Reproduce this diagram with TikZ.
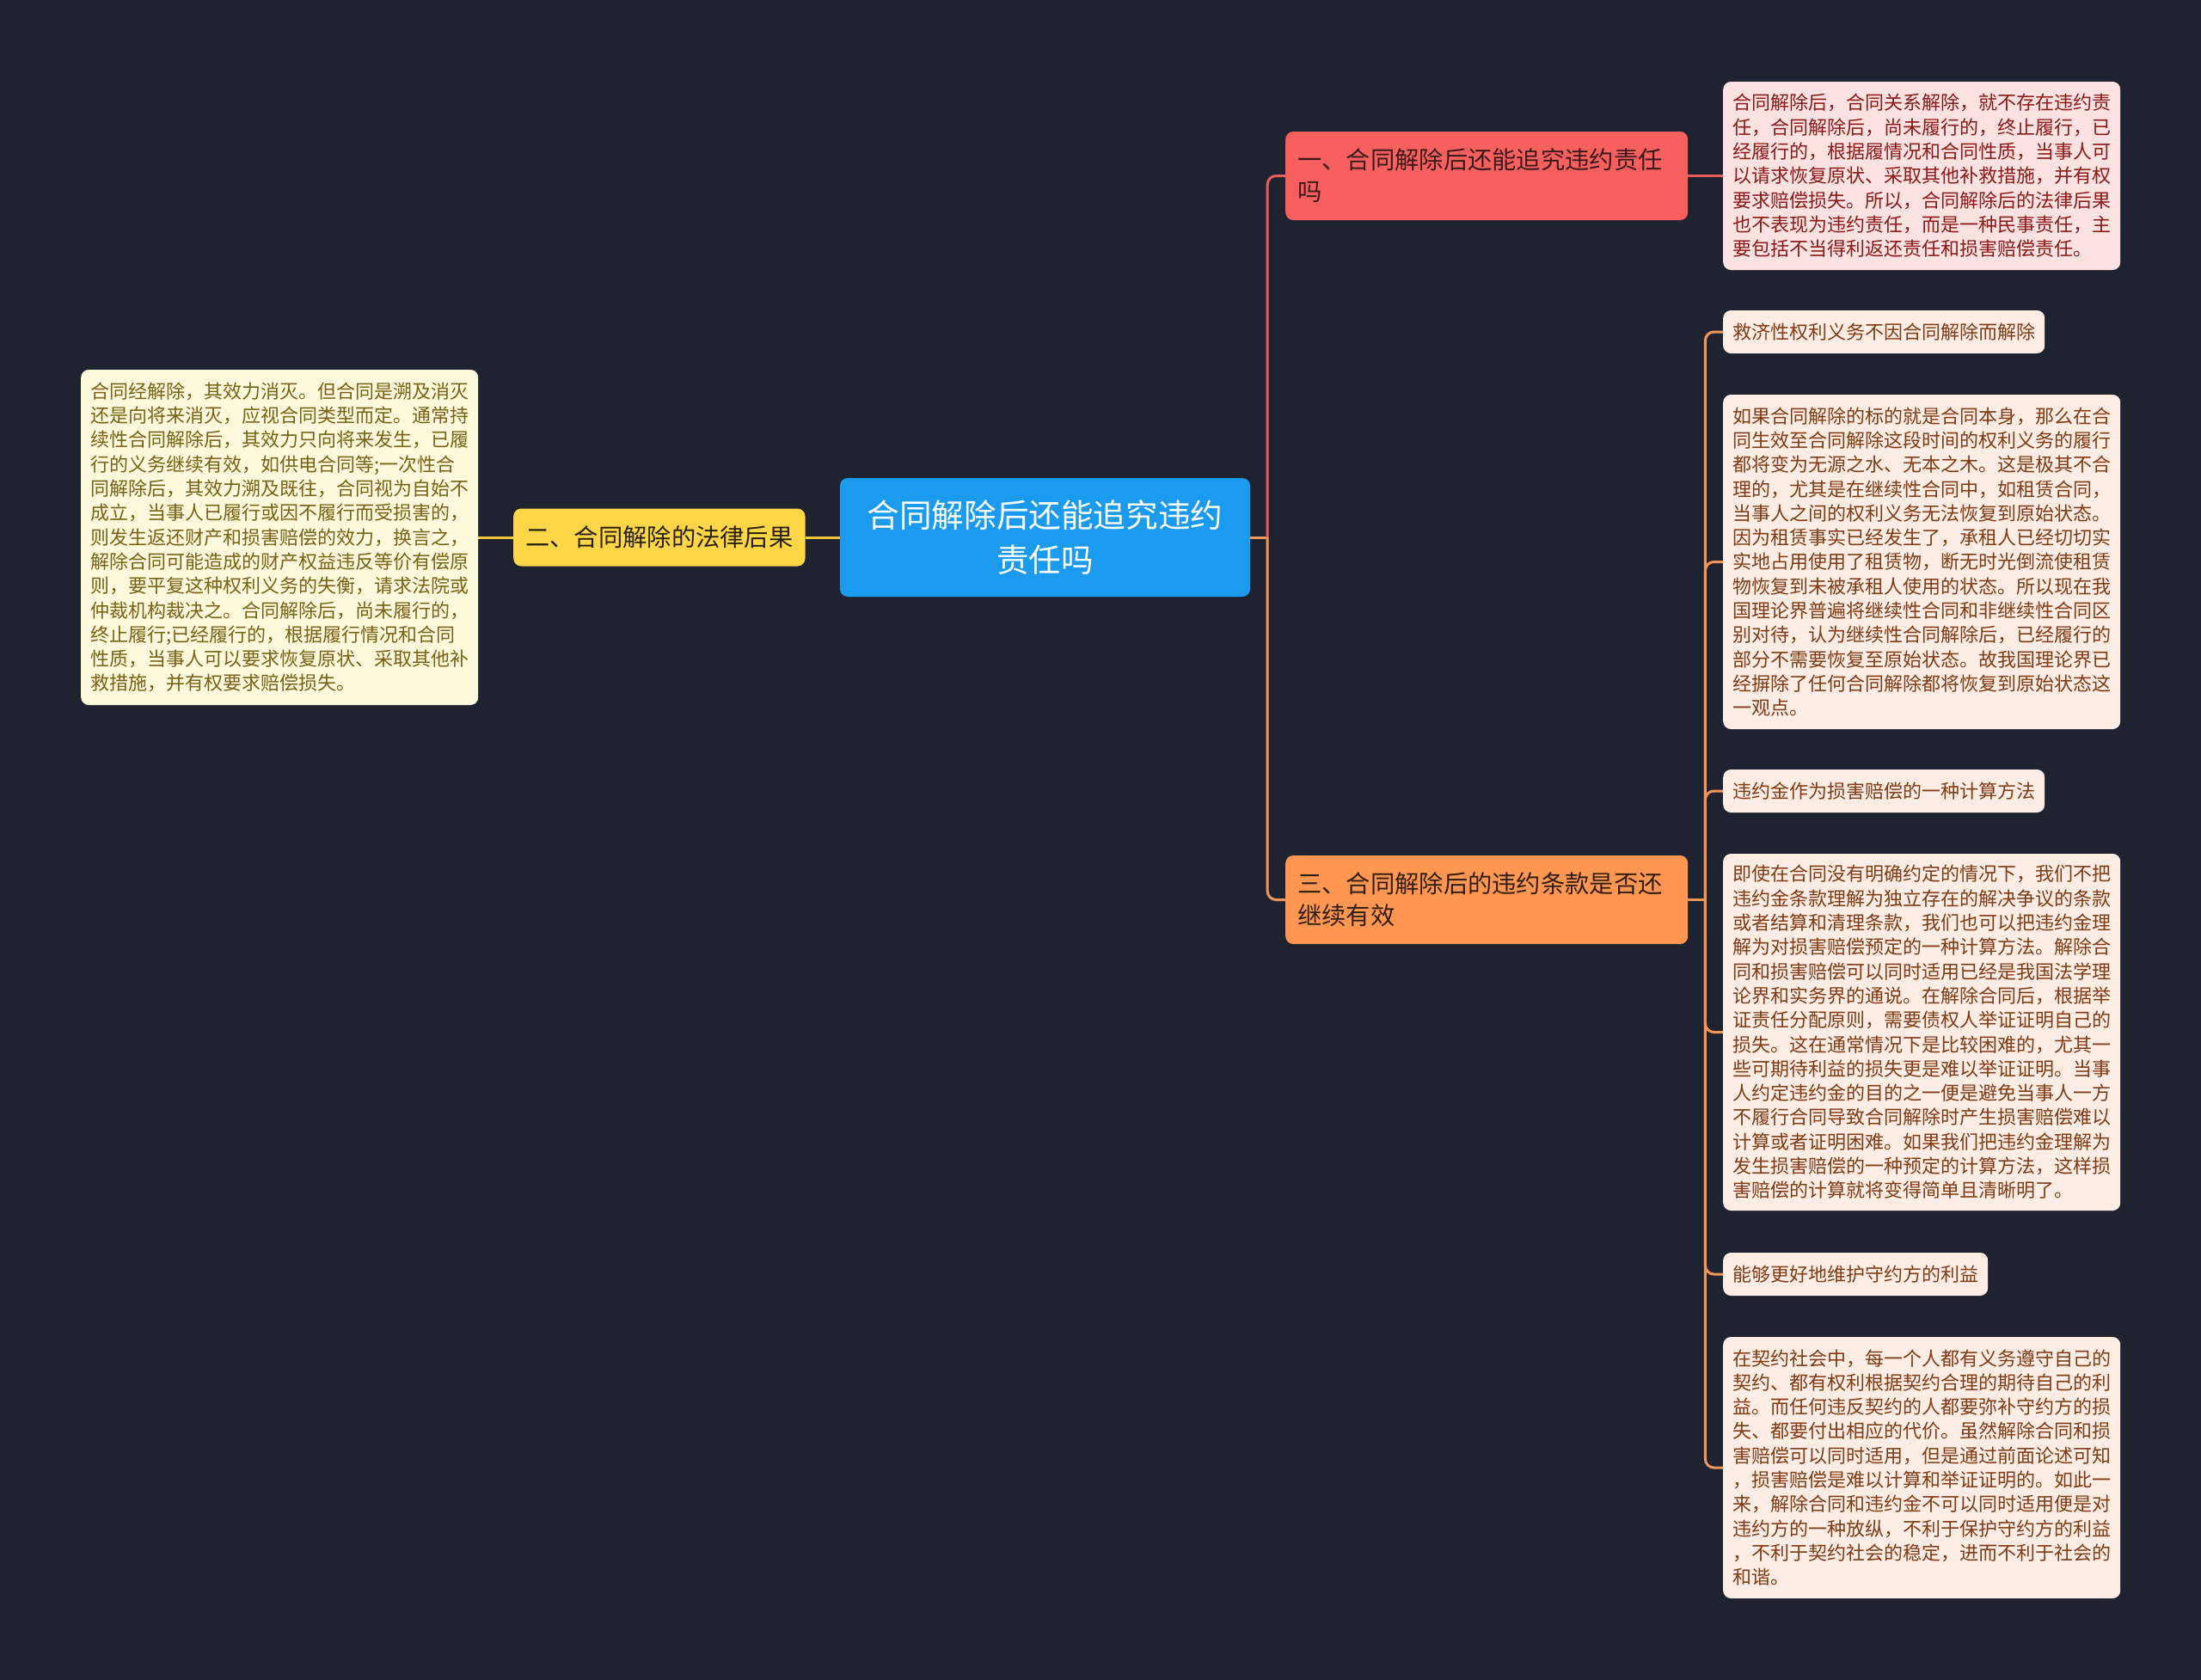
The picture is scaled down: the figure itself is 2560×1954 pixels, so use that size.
\documentclass[tikz,border=0pt]{standalone}
\usepackage{fontspec}
\setmainfont{Noto Sans CJK SC}

\begin{document}
\begin{tikzpicture}[x=1pt,y=-1pt,
  rootbox/.style={fill=rootfill, text=white, rounded corners=9pt, minimum width=477pt,
    minimum height=138pt, text width=440pt, align=center, font=\fontsize{37.6}{52}\selectfont},
  secbox/.style={rounded corners=9pt, inner xsep=14pt, inner ysep=0pt, anchor=west,
    align=left, font=\fontsize{28.3}{37}\selectfont},
  notebox/.style={rounded corners=9pt, inner xsep=11pt, inner ysep=0pt, anchor=west,
    align=left, text width=440pt, font=\fontsize{22}{28.3}\selectfont},
  labelbox/.style={rounded corners=9pt, inner xsep=11pt, inner ysep=0pt, anchor=west,
    minimum height=50pt, fill=noteCfill, text=noteCink, font=\fontsize{22}{28.3}\selectfont},
  link/.style={line width=3pt}]
  \definecolor{bg}{RGB}{31,35,48}
  \definecolor{rootfill}{RGB}{26,155,240}
  \definecolor{secAfill}{RGB}{248,96,96}
  \definecolor{secAink}{RGB}{60,24,24}
  \definecolor{secBfill}{RGB}{255,214,72}
  \definecolor{secBink}{RGB}{40,34,12}
  \definecolor{secCfill}{RGB}{255,150,82}
  \definecolor{secCink}{RGB}{50,30,15}
  \definecolor{noteAfill}{RGB}{253,226,226}
  \definecolor{noteAink}{RGB}{140,24,24}
  \definecolor{noteBfill}{RGB}{255,249,222}
  \definecolor{noteBink}{RGB}{120,98,20}
  \definecolor{noteCfill}{RGB}{253,237,228}
  \definecolor{noteCink}{RGB}{128,58,20}
  \definecolor{linkA}{RGB}{232,92,92}
  \definecolor{linkB}{RGB}{240,200,60}
  \definecolor{linkC}{RGB}{240,150,90}

  \fill[bg] (0,0) rectangle (2560,1954);

  \node[rootbox] (root) at (1215.5,625) {合同解除后还能追究违约\\责任吗};
  \node[secbox, fill=secAfill, text=secAink, text width=440pt, minimum height=103pt] (secA)
    at (1495,204.5) {一、合同解除后还能追究违约责任\\吗};
  \node[secbox, fill=secBfill, text=secBink, minimum height=67pt] (secB)
    at (597,625) {二、合同解除的法律后果};
  \node[secbox, fill=secCfill, text=secCink, text width=440pt, minimum height=103pt] (secC)
    at (1495,1046.5) {三、合同解除后的违约条款是否还\\继续有效};

  % notes
  \node[notebox, fill=noteAfill, text=noteAink, minimum height=219pt] (noteA) at (2004,204.5) {%
    合同解除后，合同关系解除，就不存在违约责\\
    任，合同解除后，尚未履行的，终止履行，已\\
    经履行的，根据履情况和合同性质，当事人可\\
    以请求恢复原状、采取其他补救措施，并有权\\
    要求赔偿损失。所以，合同解除后的法律后果\\
    也不表现为违约责任，而是一种民事责任，主\\
    要包括不当得利返还责任和损害赔偿责任。};
  \node[notebox, fill=noteBfill, text=noteBink, minimum height=390pt] (noteB) at (94,625) {%
    合同经解除，其效力消灭。但合同是溯及消灭\\
    还是向将来消灭，应视合同类型而定。通常持\\
    续性合同解除后，其效力只向将来发生，已履\\
    行的义务继续有效，如供电合同等;一次性合\\
    同解除后，其效力溯及既往，合同视为自始不\\
    成立，当事人已履行或因不履行而受损害的，\\
    则发生返还财产和损害赔偿的效力，换言之，\\
    解除合同可能造成的财产权益违反等价有偿原\\
    则，要平复这种权利义务的失衡，请求法院或\\
    仲裁机构裁决之。合同解除后，尚未履行的，\\
    终止履行;已经履行的，根据履行情况和合同\\
    性质，当事人可以要求恢复原状、采取其他补\\
    救措施，并有权要求赔偿损失。};

  \node[labelbox] (lblC1) at (2004,386) {救济性权利义务不因合同解除而解除};
  \node[notebox, fill=noteCfill, text=noteCink, minimum height=389pt] (txtC1) at (2004,653.5) {%
    如果合同解除的标的就是合同本身，那么在合\\
    同生效至合同解除这段时间的权利义务的履行\\
    都将变为无源之水、无本之木。这是极其不合\\
    理的，尤其是在继续性合同中，如租赁合同，\\
    当事人之间的权利义务无法恢复到原始状态。\\
    因为租赁事实已经发生了，承租人已经切切实\\
    实地占用使用了租赁物，断无时光倒流使租赁\\
    物恢复到未被承租人使用的状态。所以现在我\\
    国理论界普遍将继续性合同和非继续性合同区\\
    别对待，认为继续性合同解除后，已经履行的\\
    部分不需要恢复至原始状态。故我国理论界已\\
    经摒除了任何合同解除都将恢复到原始状态这\\
    一观点。};
  \node[labelbox] (lblC2) at (2004,920) {违约金作为损害赔偿的一种计算方法};
  \node[notebox, fill=noteCfill, text=noteCink, minimum height=415pt] (txtC2) at (2004,1200.5) {%
    即使在合同没有明确约定的情况下，我们不把\\
    违约金条款理解为独立存在的解决争议的条款\\
    或者结算和清理条款，我们也可以把违约金理\\
    解为对损害赔偿预定的一种计算方法。解除合\\
    同和损害赔偿可以同时适用已经是我国法学理\\
    论界和实务界的通说。在解除合同后，根据举\\
    证责任分配原则，需要债权人举证证明自己的\\
    损失。这在通常情况下是比较困难的，尤其一\\
    些可期待利益的损失更是难以举证证明。当事\\
    人约定违约金的目的之一便是避免当事人一方\\
    不履行合同导致合同解除时产生损害赔偿难以\\
    计算或者证明困难。如果我们把违约金理解为\\
    发生损害赔偿的一种预定的计算方法，这样损\\
    害赔偿的计算就将变得简单且清晰明了。};
  \node[labelbox] (lblC3) at (2004,1482) {能够更好地维护守约方的利益};
  \node[notebox, fill=noteCfill, text=noteCink, minimum height=304pt] (txtC3) at (2004,1707) {%
    在契约社会中，每一个人都有义务遵守自己的\\
    契约、都有权利根据契约合理的期待自己的利\\
    益。而任何违反契约的人都要弥补守约方的损\\
    失、都要付出相应的代价。虽然解除合同和损\\
    害赔偿可以同时适用，但是通过前面论述可知\\
    ，损害赔偿是难以计算和举证证明的。如此一\\
    来，解除合同和违约金不可以同时适用便是对\\
    违约方的一种放纵，不利于保护守约方的利益\\
    ，不利于契约社会的稳定，进而不利于社会的\\
    和谐。};

  % connectors
  \coordinate (jr) at ([xshift=20pt]root.east);
  \coordinate (jc) at ([xshift=20pt]secC.east);
  \draw[link, linkC] (root.east) -- (jr);
  \draw[link, linkA, rounded corners=10pt] (jr) |- (secA.west);
  \draw[link, linkC, rounded corners=10pt] (jr) |- (secC.west);
  \draw[link, linkA] (secA.east) -- (noteA.west);
  \draw[link, linkB] (root.west) -- (secB.east);
  \draw[link, linkB] (secB.west) -- (noteB.east);
  \draw[link, linkC] (secC.east) -- (jc);
  \foreach \kid in {lblC1,txtC1,lblC2,txtC2,lblC3,txtC3}
    \draw[link, linkC, rounded corners=10pt] (jc) |- (\kid.west);
\end{tikzpicture}
\end{document}
